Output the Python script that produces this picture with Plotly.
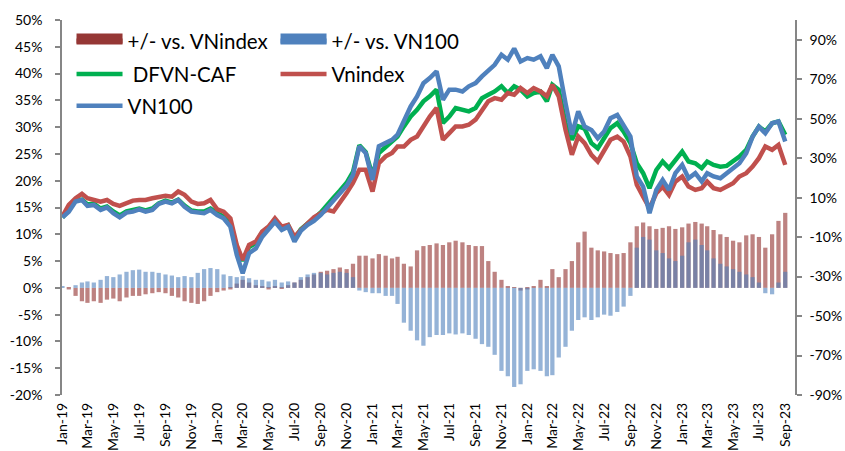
import datetime as dt
import plotly.graph_objects as go

# ---- data (semi-monthly samples) ----
dates = []
for y in range(2019, 2024):
    for mo in range(1, 13):
        for d in (1, 16):
            day = dt.date(y, mo, d)
            if day <= dt.date(2023, 9, 1):
                dates.append(day.isoformat())

# cumulative returns, % (right axis)
dfvn_caf = [0, 3.5, 8.5, 9, 6.5, 7, 4.5, 5.5, 3, 1, 3, 3.5, 4.5, 3.5, 4.5, 7, 8.5, 7.5, 9, 6,
            3.5, 3, 3, 4.5, 2, 0.5, -3.5, -15, -22, -15, -13, -7.5, -5, -1.2, -5.5, -4, -11, -6, -2.8, -0.5,
            2.5, 6.5, 10, 13.5, 17.5, 23, 36.5, 33, 21, 32.6, 35.9, 38.5, 41, 46.1, 51.1, 54.5, 58.8, 61.3, 64.7, 47.8,
            51.1, 55.4, 54.5, 53.7, 55.4, 60.4, 62.1, 63.8, 66.4, 63, 66.4, 64.7, 61.3, 63, 63.8, 58.8, 67.2, 64.7, 47.8, 39.3,
            46.1, 45, 37.6, 35, 40.1, 45.2, 47.7, 43.5, 37.6, 27.4, 22.4, 14.8, 24, 28.3, 24.9, 29.1, 33.3, 28.3, 27.4, 24.9,
            28.3, 26.6, 25.7, 26.1, 28.3, 30.8, 34.2, 40.9, 46, 43.5, 47.7, 48.6, 41.8]
vnindex = [0.5, 6.3, 9.7, 11.9, 9.7, 8.8, 8.0, 8.8, 6.8, 5.8, 7.5, 8.5, 8.8, 8.8, 9.7, 10.5, 10.9, 10.5, 13.1, 11.4,
           8.0, 6.8, 7.1, 8.8, 4.1, 2.9, -0.5, -14, -21.6, -14, -12.3, -7.2, -4.7, -0.5, -4.7, -3.8, -9.8, -6.4, -3, 0,
           2.1, 3.8, 3, 7.2, 12.3, 17.4, 24.1, 24.1, 13.1, 27.5, 30.9, 32.6, 35.9, 35.9, 39.3, 41, 46.1, 51.1, 55.4, 39.3,
           42.7, 46.1, 46.1, 46.9, 49.5, 54.5, 58.8, 60.4, 59.6, 63, 62.1, 65.5, 63, 65.5, 63.8, 61.3, 67.2, 61.3, 44.4, 31.7,
           41, 37.6, 31.7, 28.3, 33.3, 39.3, 40.9, 38.4, 30.8, 16.5, 10.5, 4.6, 12.2, 15.6, 11.4, 18.1, 20.7, 15.6, 13.9, 14.8,
           18.1, 14.8, 13.9, 15.6, 17.3, 20.7, 22.4, 25.7, 30, 35.9, 34.2, 36.7, 26.6]
vn100 = [0.0, 2.9, 8.0, 8.8, 5.8, 6.3, 3.8, 5.1, 2.1, 0.0, 2.4, 2.9, 4.1, 2.9, 3.8, 6.8, 8.0, 7.1, 8.8, 5.4,
         2.9, 2.4, 2.1, 3.8, 1.2, -0.5, -4.7, -19.0, -28.3, -18.2, -15.7, -9.8, -6.4, -2.2, -6.4, -4.7, -12.3, -6.8, -3.8, -1.8,
         1.2, 4.8, 8.1, 12, 16, 21.5, 36, 32.6, 19, 36, 37.6, 39.3, 41.9, 49.5, 56.2, 61.3, 68, 70.6, 74, 59.6,
         64.7, 64.7, 63.8, 66.4, 68, 71.4, 74, 77.3, 82.4, 79.9, 85.5, 79, 80.7, 79.9, 81.6, 75.6, 82.4, 76.5, 57.9, 41.9,
         53.7, 46, 44.3, 40.1, 43.5, 50.2, 51.9, 46.9, 40.9, 20.7, 15.6, 2.1, 13.9, 19, 13.9, 22.4, 26.6, 19.8, 22.4, 18.2,
         22.4, 20.7, 19.8, 22.4, 24.9, 27.4, 32.5, 40.9, 46, 42.6, 47.7, 48.6, 38.4]

# out/under-performance, % (left axis)
vs_vnindex = [0, -0.3, -1.5, -2.5, -2.8, -2.5, -2.8, -2.2, -2.0, -2.5, -1.8, -1.5, -1.5, -1.2, -1.0, -0.8, -1.0, -1.5, -1.8, -2.5,
              -2.8, -3.0, -2.5, -1.5, -0.8, -0.5, -0.3, 0.8, 1.5, 1.0, 0.5, 0.3, -0.3, 0.3, -0.2, 0.5, 1.0, 1.5, 2.0, 2.5,
              3.0, 3.2, 3.5, 3.8, 3.5, 4.5, 6.0, 6.0, 5.5, 6.3, 6.0, 5.5, 5.8, 4.5, 4.0, 7.0, 7.8, 8.0, 8.3, 8.0,
              8.5, 8.8, 8.5, 8.0, 7.8, 7.8, 5.0, 3.0, 1.5, 0.3, 0.1, -0.5, -0.3, 0.2, 1.5, 0.2, 3.5, 2.0, 3.5, 5.0,
              8.5, 10.5, 7.5, 7.0, 6.8, 6.5, 6.3, 6.5, 8.5, 11.5, 12.2, 11.5, 11.0, 11.2, 11.5, 11.0, 11.3, 12.0, 12.3, 12.0,
              11.5, 10.8, 10.0, 9.5, 8.8, 8.5, 9.8, 10.0, 9.5, 7.5, 10.0, 12.5, 14.0]
vs_vn100 = [0.2, 0, 0.5, 1.0, 1.2, 1.0, 1.5, 2.2, 2.0, 2.5, 3.0, 3.3, 3.4, 3.0, 3.0, 2.8, 2.5, 2.3, 2.0, 2.2,
            2.0, 2.8, 3.5, 3.7, 3.5, 2.5, 2.2, 2.0, 2.2, 1.8, 1.5, 1.5, 1.2, 1.5, 1.0, 1.2, 1.0, 2.0, 2.5, 2.8,
            2.8, 2.5, 2.8, 3.0, 2.8, 2.0, -0.5, -0.8, -1.0, -1.0, -1.5, -1.5, -3.0, -6.5, -8.0, -9.8, -10.8, -9.2, -8.8, -8.8,
            -8.5, -8.7, -8.5, -8.8, -9.5, -10.5, -11, -12.5, -15.5, -16.5, -18.5, -18, -15.5, -15.2, -15.5, -16.5, -16.3, -13, -11, -8,
            -6, -5.5, -6, -5.5, -5, -5.2, -4.5, -3.5, -1.5, 7.5, 9.5, 9.0, 7.0, 6.5, 5.5, 5.0, 6.0, 8.5, 9.0, 8.0,
            7.0, 5.5, 4.5, 4.0, 3.5, 3.0, 2.5, 2.0, 1.0, -1.0, -1.2, 1.0, 3.0]

left_ticks = [-20, -15, -10, -5, 0, 5, 10, 15, 20, 25, 30, 35, 40, 45, 50]
left_labels = ["-20%", "-15%", "-10%", "-5%", "0%", "5%", "10%", "15%", "20%", "25%",
               "30%", "35%", "40%", "45%", "50%"]
right_ticks = [-90, -70, -50, -30, -10, 10, 30, 50, 70, 90]
right_labels = ["-90%", "-70%", "-50%", "-30%", "-10%", "10%", "30%", "50%", "70%", "90%"]

C_BAR_RED = "#953735"
C_BAR_BLUE = "#4F81BD"
C_GREEN = "#00B050"
C_RED = "#C0504D"
C_BLUE = "#4F81BD"
FONT = "Lato"

fig = go.Figure()
barw = 10 * 24 * 3600 * 1000
fig.add_trace(go.Bar(x=dates, y=vs_vnindex, name="+/- vs. VNindex", marker_color=C_BAR_RED,
                     marker_line_width=0, opacity=0.62, width=barw, showlegend=False, yaxis="y"))
fig.add_trace(go.Bar(x=dates, y=vs_vn100, name="+/- vs. VN100", marker_color=C_BAR_BLUE,
                     marker_line_width=0, opacity=0.6, width=barw, showlegend=False, yaxis="y"))
# legend keys for the bar series
fig.add_trace(go.Scatter(x=[None], y=[None], mode="lines", name="+/- vs. VNindex", fill="toself",
                         fillcolor=C_BAR_RED, line=dict(color=C_BAR_RED, width=13),
                         legend="legend", yaxis="y"))
fig.add_trace(go.Scatter(x=[None], y=[None], mode="lines", name="+/- vs. VN100", fill="toself",
                         fillcolor=C_BAR_BLUE, line=dict(color=C_BAR_BLUE, width=13),
                         legend="legend", yaxis="y"))

fig.add_trace(go.Scatter(x=dates, y=dfvn_caf, mode="lines", name=" DFVN-CAF",
                         line=dict(color=C_GREEN, width=4.5), legend="legend2", yaxis="y2"))
fig.add_trace(go.Scatter(x=dates, y=vnindex, mode="lines", name="Vnindex",
                         line=dict(color=C_RED, width=4.5), legend="legend2", yaxis="y2"))
fig.add_trace(go.Scatter(x=dates, y=vn100, mode="lines", name="VN100",
                         line=dict(color=C_BLUE, width=4.5), legend="legend3", yaxis="y2"))

leg_common = dict(orientation="h", xanchor="left", yanchor="top", bgcolor="rgba(0,0,0,0)",
                  font=dict(family=FONT, size=20.5, color="#000000"), itemwidth=46,
                  entrywidth=143, traceorder="normal")

fig.update_layout(
    width=845, height=451,
    margin=dict(l=62, r=50, t=20, b=56, autoexpand=False),
    paper_bgcolor="white", plot_bgcolor="white",
    barmode="overlay",
    font=dict(family=FONT, size=14, color="#000000"),
    legend=dict(x=0.013, y=0.998, **leg_common),
    legend2=dict(x=0.013, y=0.909, **leg_common),
    legend3=dict(x=0.013, y=0.824, **leg_common),
    xaxis=dict(type="date", range=["2018-12-31", "2023-09-24"], dtick="M2", tick0="2019-01-01",
               tickformat="%b-%y", tickangle=-90, showgrid=False, showline=False, zeroline=False,
               ticks="", ticklabelstandoff=4, tickfont=dict(family=FONT, size=14, color="#000000")),
    yaxis=dict(range=[-20, 50], tickvals=left_ticks, ticktext=left_labels, showgrid=False,
               zeroline=False, showline=True, linecolor="#868686", linewidth=1.5,
               ticks="outside", ticklen=5, tickcolor="#868686", tickwidth=1.5, ticklabelstandoff=10,
               tickfont=dict(family=FONT, size=14, color="#000000")),
    yaxis2=dict(range=[-90, 100], tickvals=right_ticks, ticktext=right_labels, overlaying="y",
                side="right", showgrid=False, zeroline=False, showline=True, linecolor="#868686",
                linewidth=1.5, ticks="outside", ticklen=5, tickcolor="#868686", tickwidth=1.5,
                ticklabelstandoff=5, tickfont=dict(family=FONT, size=14, color="#000000")),
)

fig.write_html("out.html", config={"displayModeBar": False},
               post_script="document.body.style.margin='0';document.body.style.overflow='hidden';")
